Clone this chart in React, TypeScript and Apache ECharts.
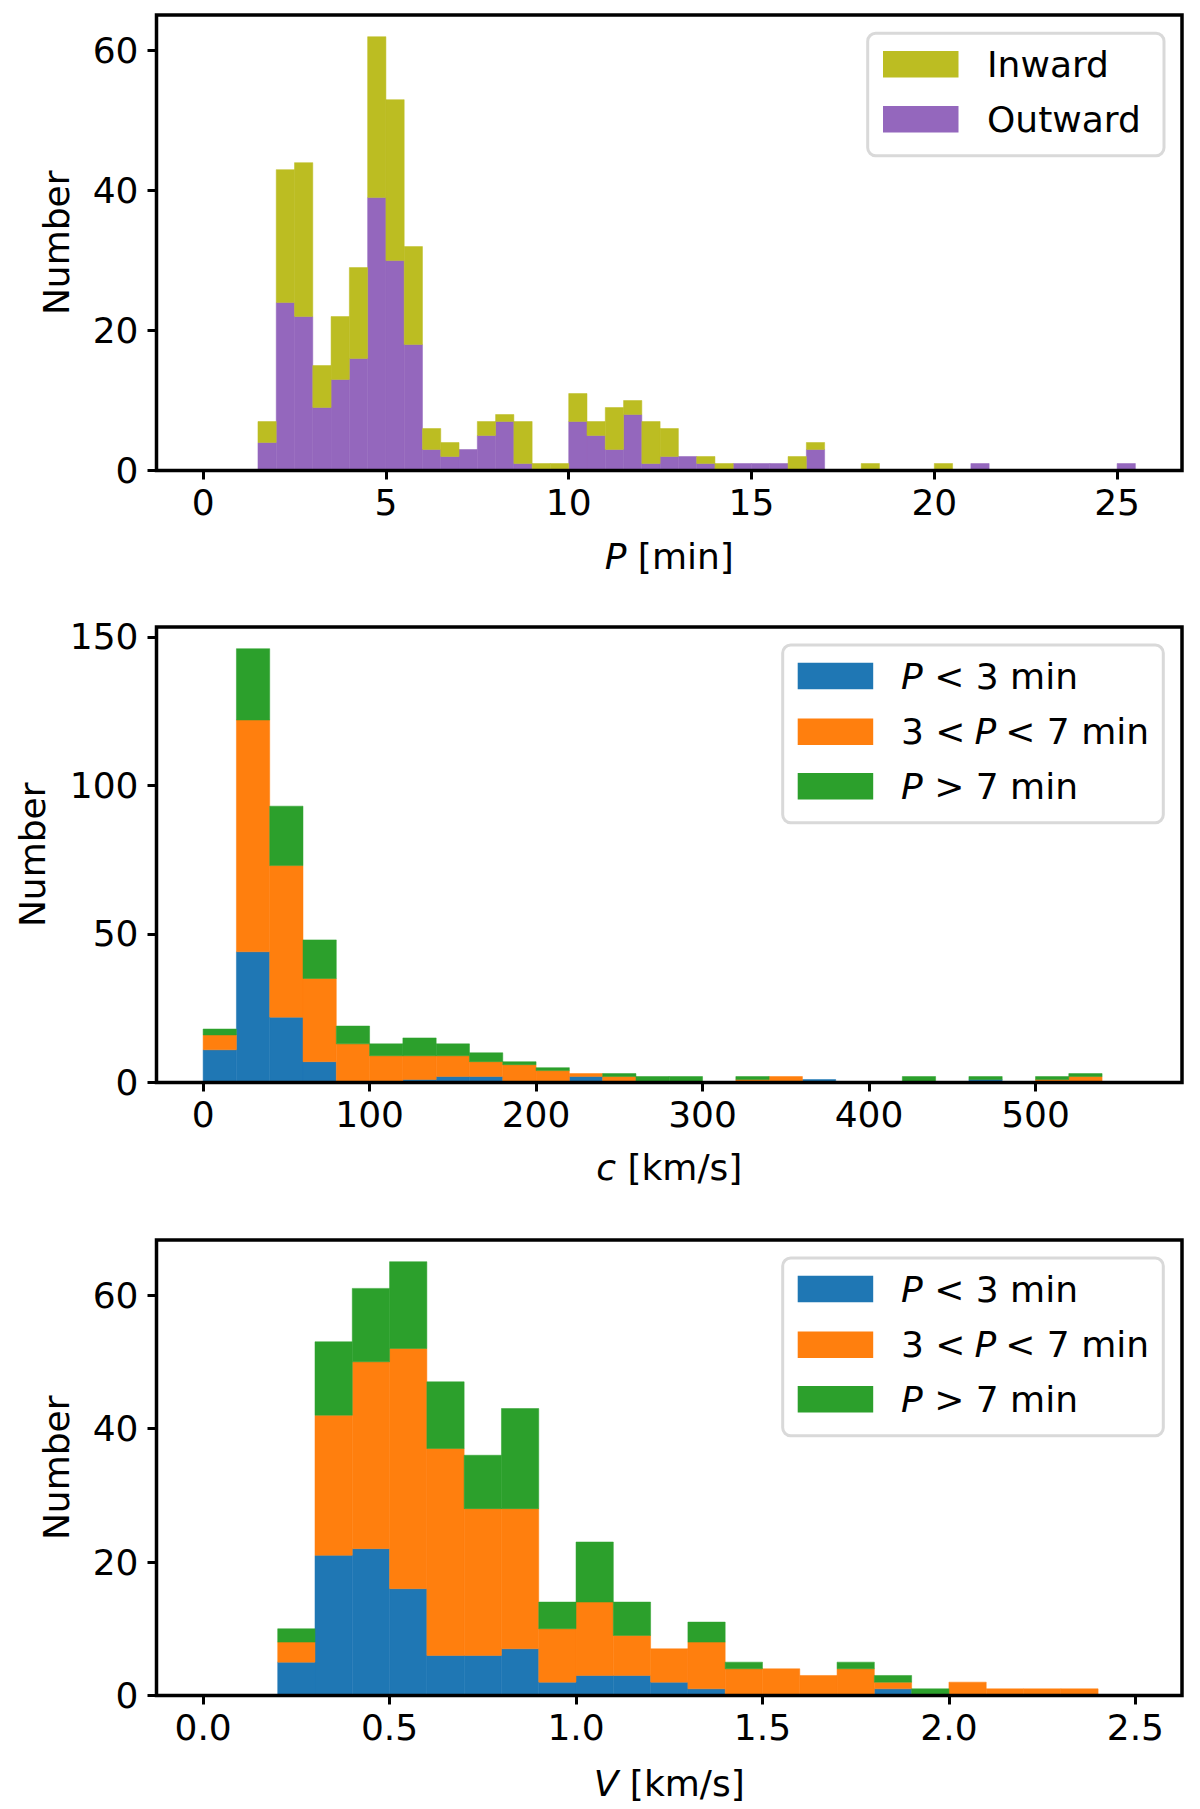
import React, { useEffect, useRef } from "react";
import * as echarts from "echarts";

const FONT = "'DejaVu Sans', sans-serif";

// ---------- Panel 1: period P [min], bins of 0.5 min starting at 0 ----------
const pBinStart = 0;
const pBinWidth = 0.5;
const pOutward = [0, 0, 0, 4, 24, 22, 9, 13, 16, 39, 30, 18, 3, 2, 3, 5, 7, 1, 0, 0, 7, 5, 3, 8, 1, 2, 2, 1, 0, 1, 1, 1, 0, 3, 0, 0, 0, 0, 0, 0, 0, 0, 1, 0, 0, 0, 0, 0, 0, 0, 1];
const pInward = [0, 0, 0, 3, 19, 22, 6, 9, 13, 23, 23, 14, 3, 2, 0, 2, 1, 6, 1, 1, 4, 2, 6, 2, 6, 4, 0, 1, 1, 0, 0, 0, 2, 1, 0, 0, 1, 0, 0, 0, 1, 0, 0, 0, 0, 0, 0, 0, 0, 0, 0];
const pXTicks = [0, 5, 10, 15, 20, 25];
const pYTicks = [0, 20, 40, 60];

// ---------- Panel 2: phase speed c [km/s], bins of 20 km/s ----------
const cBinStart = 0;
const cBinWidth = 20;
const cShort = [11, 44, 22, 7, 0, 0, 1, 2, 2, 0, 0, 2, 0, 0, 0, 0, 0, 0, 1, 0, 0, 0, 0, 1, 0, 0, 0, 0];
const cMid = [5, 78, 51, 28, 13, 9, 8, 7, 5, 6, 4, 1, 2, 0, 0, 0, 1, 2, 0, 0, 0, 0, 0, 0, 0, 1, 2, 0];
const cLong = [2, 24, 20, 13, 6, 4, 6, 4, 3, 1, 1, 0, 1, 2, 2, 0, 1, 0, 0, 0, 0, 2, 0, 1, 0, 1, 1, 0];
const cXTicks = [0, 100, 200, 300, 400, 500];
const cYTicks = [0, 50, 100, 150];

// ---------- Panel 3: velocity V [km/s], bins of 0.1 km/s ----------
const vBinStart = 0;
const vBinWidth = 0.1;
const vShort = [0, 0, 5, 21, 22, 16, 6, 6, 7, 2, 3, 3, 2, 1, 0, 0, 0, 0, 1, 0, 0, 0, 0, 0, 0];
const vMid = [0, 0, 3, 21, 28, 36, 31, 22, 21, 8, 11, 6, 5, 7, 4, 4, 3, 4, 1, 0, 2, 1, 1, 1, 0];
const vLong = [0, 0, 2, 11, 11, 13, 10, 8, 15, 4, 9, 5, 0, 3, 1, 0, 0, 1, 1, 1, 0, 0, 0, 0, 0];
const vXTicks = [0, 0.5, 1, 1.5, 2, 2.5];
const vYTicks = [0, 20, 40, 60];

const COL = {
  olive: "#bcbd22",
  purple: "#9467bd",
  blue: "#1f77b4",
  orange: "#ff7f0e",
  green: "#2ca02c",
};

// layout
const GRID_LEFT = 156.5;
const GRID_W = 1025.5;
const GRID_H = 455.5;
const GRID_TOPS = [15, 627, 1240];

function stackLayers(start: number, width: number, layers: number[][]) {
  const n = layers[0].length;
  const base = new Array(n).fill(0);
  return layers.map((layer) => {
    const out: number[][] = [];
    for (let i = 0; i < n; i++) {
      const b = base[i];
      const t = b + layer[i];
      if (layer[i] > 0) out.push([start + i * width, start + (i + 1) * width, b, t]);
      base[i] = t;
    }
    return out;
  });
}

function totals(layers: number[][]) {
  return layers[0].map((_, i) => layers.reduce((s, l) => s + l[i], 0));
}

function xRange(start: number, width: number, n: number) {
  const span = n * width;
  return [start - 0.05 * span, start + span + 0.05 * span];
}

function rectRender(color: string) {
  return (params: any, api: any) => {
    const a = api.coord([api.value(0), api.value(3)]);
    const b = api.coord([api.value(1), api.value(2)]);
    return {
      type: "rect",
      shape: { x: a[0], y: a[1], width: b[0] - a[0], height: b[1] - a[1] },
      style: { fill: color, stroke: color, lineWidth: 0.5 },
    };
  };
}

const richBase = { fontSize: 36, fontFamily: FONT, color: "#000" };
const rich = {
  i: { ...richBase, fontStyle: "italic" },
  n: { ...richBase },
};

function legendGraphic(box: { x: number; y: number; w: number; h: number }, items: { color: string; y: number; text: string }[], patchX: number, textX: number) {
  const els: any[] = [
    {
      type: "rect",
      z: 50,
      shape: { x: box.x, y: box.y, width: box.w, height: box.h, r: 8 },
      style: { fill: "rgba(255,255,255,0.8)", stroke: "#d9d9d9", lineWidth: 3 },
    },
  ];
  items.forEach((it) => {
    els.push({
      type: "rect",
      z: 51,
      shape: { x: patchX, y: it.y - 13.3, width: 75.5, height: 26.6 },
      style: { fill: it.color },
    });
    els.push({
      type: "text",
      z: 51,
      x: textX,
      y: it.y,
      style: {
        text: it.text,
        rich,
        fontSize: 36,
        fontFamily: FONT,
        fill: "#000",
        align: "left",
        verticalAlign: "middle",
      },
    });
  });
  return els;
}

export default function App() {
  const ref = useRef<HTMLDivElement>(null);

  useEffect(() => {
    if (!ref.current) return;
    const chart = echarts.init(ref.current, undefined, { renderer: "svg" });

    const pLayers = stackLayers(pBinStart, pBinWidth, [pOutward, pInward]);
    const cLayers = stackLayers(cBinStart, cBinWidth, [cShort, cMid, cLong]);
    const vLayers = stackLayers(vBinStart, vBinWidth, [vShort, vMid, vLong]);

    const yMaxP = 1.05 * Math.max(...totals([pOutward, pInward]));
    const yMaxC = 1.05 * Math.max(...totals([cShort, cMid, cLong]));
    const yMaxV = 1.05 * Math.max(...totals([vShort, vMid, vLong]));

    const xrP = xRange(pBinStart, pBinWidth, pOutward.length);
    const xrC = xRange(cBinStart, cBinWidth, cShort.length);
    const xrV = xRange(vBinStart, vBinWidth, vShort.length);

    const tickStyle = { show: true, length: 9, inside: false, lineStyle: { color: "#000", width: 3 } };
    const labelStyle = { fontSize: 36, fontFamily: FONT, color: "#000" };

    const mkX = (idx: number, range: number[], ticks: number[], name: string, fmt: (v: number) => string, gap: number) => ({
      type: "value",
      gridIndex: idx,
      min: range[0],
      max: range[1],
      axisLine: { show: false, onZero: false },
      axisTick: { ...tickStyle, customValues: ticks },
      axisLabel: { ...labelStyle, margin: 14, customValues: ticks, formatter: fmt },
      splitLine: { show: false },
      name,
      nameLocation: "middle",
      nameGap: gap,
      nameTextStyle: { ...labelStyle, rich },
    });

    const mkY = (idx: number, max: number, ticks: number[], gap: number) => ({
      type: "value",
      gridIndex: idx,
      min: 0,
      max,
      axisLine: { show: false, onZero: false },
      axisTick: { ...tickStyle, customValues: ticks },
      axisLabel: { ...labelStyle, margin: 18, customValues: ticks, formatter: (v: number) => String(v) },
      splitLine: { show: false },
      name: "Number",
      nameLocation: "middle",
      nameGap: gap,
      nameTextStyle: { ...labelStyle },
    });

    const mkSeries = (name: string, color: string, data: number[][], idx: number) => ({
      type: "custom",
      name,
      xAxisIndex: idx,
      yAxisIndex: idx,
      renderItem: rectRender(color),
      encode: { x: [0, 1], y: [2, 3] },
      data,
      clip: true,
      silent: true,
    });

    const frames = GRID_TOPS.map((t) => ({
      type: "rect",
      z: 100,
      shape: { x: GRID_LEFT, y: t, width: GRID_W, height: GRID_H },
      style: { fill: "none", stroke: "#000", lineWidth: 3.5 },
    }));

    const legend1 = legendGraphic(
      { x: 867.7, y: 33.3, w: 296.3, h: 122.4 },
      [
        { color: COL.olive, y: 64.2, text: "{n|Inward}" },
        { color: COL.purple, y: 119.3, text: "{n|Outward}" },
      ],
      883,
      987
    );
    const legendItems = (top: number) => [
      { color: COL.blue, y: top + 31, text: "{i|P}{n| < 3 min}" },
      { color: COL.orange, y: top + 86.7, text: "{n|3 <\u2005}{i|P}{n|\u2005< 7 min}" },
      { color: COL.green, y: top + 141.3, text: "{i|P}{n| > 7 min}" },
    ];
    const legend2 = legendGraphic({ x: 782.7, y: 645, w: 380.6, h: 177.7 }, legendItems(645), 797.7, 901);
    const legend3 = legendGraphic({ x: 782.7, y: 1258, w: 380.6, h: 177.7 }, legendItems(1258), 797.7, 901);

    chart.setOption({
      animation: false,
      backgroundColor: "#fff",
      grid: GRID_TOPS.map((t) => ({ left: GRID_LEFT, top: t, width: GRID_W, height: GRID_H, show: false })),
      xAxis: [
        mkX(0, xrP, pXTicks, "{i|P}{n| [min]}", (v) => String(v), 68),
        mkX(1, xrC, cXTicks, "{i|c}{n| [km/s]}", (v) => String(v), 67),
        mkX(2, xrV, vXTicks, "{i|V}{n| [km/s]}", (v) => v.toFixed(1), 70),
      ],
      yAxis: [mkY(0, yMaxP, pYTicks, 82), mkY(1, yMaxC, cYTicks, 106), mkY(2, yMaxV, vYTicks, 82)],
      series: [
        mkSeries("Outward", COL.purple, pLayers[0], 0),
        mkSeries("Inward", COL.olive, pLayers[1], 0),
        mkSeries("P < 3 min", COL.blue, cLayers[0], 1),
        mkSeries("3 < P < 7 min", COL.orange, cLayers[1], 1),
        mkSeries("P > 7 min", COL.green, cLayers[2], 1),
        mkSeries("P < 3 min", COL.blue, vLayers[0], 2),
        mkSeries("3 < P < 7 min", COL.orange, vLayers[1], 2),
        mkSeries("P > 7 min", COL.green, vLayers[2], 2),
      ],
      graphic: [...frames, ...legend1, ...legend2, ...legend3],
    });

    return () => chart.dispose();
  }, []);

  return (
    <div
      ref={ref}
      style={{ position: "absolute", left: 0, top: 0, width: 1200, height: 1809, background: "#fff" }}
    />
  );
}
